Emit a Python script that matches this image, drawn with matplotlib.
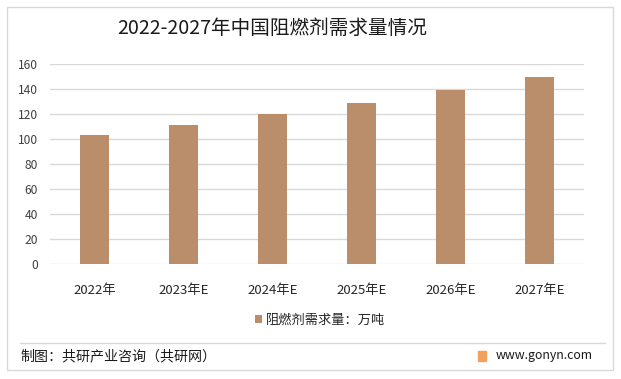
import matplotlib.pyplot as plt
from matplotlib.patches import Rectangle
from matplotlib.lines import Line2D

plt.rcParams['font.family'] = ['Noto Sans CJK SC', 'DejaVu Sans']

# 数据
years = ["2022年", "2023年E", "2024年E", "2025年E", "2026年E", "2027年E"]
demand = [103.4, 111.4, 120.2, 129.0, 139.4, 149.8]
series_name = "阻燃剂需求量：万吨"
y_ticks = [0, 20, 40, 60, 80, 100, 120, 140, 160]

W, H = 621, 379
fig = plt.figure(figsize=(W / 100, H / 100), dpi=100)

# 外框
fig.patches.append(Rectangle((7 / W, 1 - 370 / H), 606 / W, 363 / H,
                             transform=fig.transFigure, fill=False,
                             edgecolor="#D9D9D9", linewidth=1))

ax = fig.add_axes([50 / W, 1 - 264.3 / H, 534 / W, 200 / H])
x = list(range(len(years)))
ax.bar(x, demand, width=0.33, color="#BB8E6B", label=series_name, zorder=3)
ax.set_xlim(-0.5, len(years) - 0.5)
ax.set_ylim(0, 160)
ax.set_yticks(y_ticks)
ax.set_xticks(x)
ax.set_xticklabels(years, fontsize=9.5, color="#262626")
ax.tick_params(axis="y", labelsize=8.7, colors="#404040", length=0, pad=8.5)
ax.tick_params(axis="x", length=0, pad=14)
ax.grid(axis="y", color="#D9D9D9", linewidth=1, zorder=0)
for s in ax.spines.values():
    s.set_visible(False)

fig.legend(loc="center", bbox_to_anchor=(320 / W, 1 - 320 / H), frameon=False,
           fontsize=9.5, handlelength=0.55, handleheight=0.55, handletextpad=0.3,
           labelcolor="#262626")

fig.text(272 / W, 1 - 28 / H, "2022-2027年中国阻燃剂需求量情况",
         ha="center", va="center", fontsize=14.1, color="#1a1a1a")

# 底部
fig.lines.append(Line2D([20 / W, 605 / W], [1 - 343 / H, 1 - 343 / H],
                        transform=fig.transFigure, color="#D9D9D9", linewidth=1))
fig.text(20 / W, 1 - 356 / H, "制图：共研产业咨询（共研网）", ha="left", va="center",
         fontsize=10.1, color="#1a1a1a")
fig.patches.append(Rectangle((478 / W, 1 - 361 / H), 8 / W, 10 / H,
                             transform=fig.transFigure, color="#F2A05A"))
fig.text(496 / W, 1 - 355 / H, "www.gonyn.com", ha="left", va="center",
         fontsize=8.9, color="#1a1a1a")

fig.savefig("out.png", dpi=100)
